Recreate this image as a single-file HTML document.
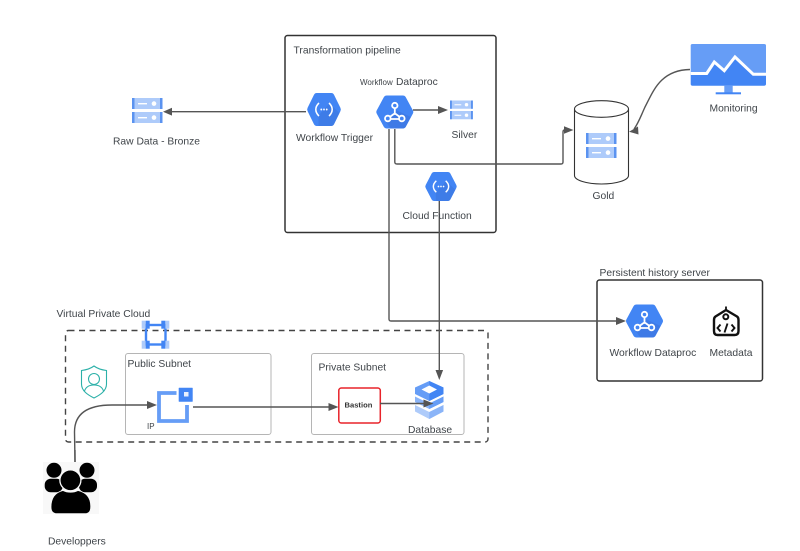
<!DOCTYPE html>
<html><head><meta charset="utf-8">
<style>
html,body{margin:0;padding:0;background:#fff;width:800px;height:551px;overflow:hidden}
svg{display:block;filter:blur(.3px)}
text{font-family:"Liberation Sans",sans-serif;font-size:10.3px;fill:#3f4449}
</style></head>
<body>
<svg width="800" height="551" viewBox="0 0 800 551" xmlns="http://www.w3.org/2000/svg">
<defs>
<g id="srv">
 <rect x="0" y="0" width="30.500" height="11" fill="#aecbfa"/>
 <rect x="0" y="0" width="2.500" height="11" fill="#5b93f0"/><rect x="28" y="0" width="2.500" height="11" fill="#5b93f0"/>
 <rect x="6" y="5" width="9" height="1.400" fill="#fff"/><circle cx="22" cy="5.600" r="2.300" fill="#fff"/>
 <rect x="0" y="14" width="30.500" height="11" fill="#aecbfa"/>
 <rect x="0" y="14" width="2.500" height="11" fill="#5b93f0"/><rect x="28" y="14" width="2.500" height="11" fill="#5b93f0"/>
 <rect x="6" y="19" width="9" height="1.400" fill="#fff"/><circle cx="22" cy="19.600" r="2.300" fill="#fff"/>
</g>
<g id="hex">
 <path d="M-8,-16.500 L8,-16.500 Q10,-16.500 11,-14.800 L18,-1.700 Q19,0 18,1.700 L11,14.800 Q10,16.500 8,16.500 L-8,16.500 Q-10,16.500 -11,14.800 L-18,1.700 Q-19,0 -18,-1.700 L-11,-14.800 Q-10,-16.500 -8,-16.500Z" fill="#4285f4"/>
</g>
<g id="dp">
 <use href="#hex"/>
 <path d="M1,-2 L16,5 L11,14.800 Q10,16.500 8,16.500 L-4,16.500 L-9,10Z" fill="#3a70d8" opacity=".5"/>
 <g fill="none" stroke="#fff" stroke-width="1.800">
  <path d="M0,-4 L0,2.500 M-5,5 L-1,2 L1,2 L5,5 M-4.500,7 L4.500,7"/>
  <circle cx="0" cy="-6.500" r="2.700" fill="#4285f4"/><circle cx="-7" cy="6.500" r="2.800" fill="#4285f4"/><circle cx="7" cy="6.500" r="2.800" fill="#4285f4"/>
 </g>
</g>
<g id="fn">
 <use href="#hex"/>
 <path d="M6,-6 L17,3.500 L11,14.800 Q10,16.500 8,16.500 L-6,16.500 L-6,6Z" fill="#3a70d8" opacity=".45"/>
 <g fill="none" stroke="#fff" stroke-width="1.700">
  <path d="M-5.500,-6.500 Q-9,-3.500 -9,0 Q-9,3.500 -5.500,6.500"/>
  <path d="M5.500,-6.500 Q9,-3.500 9,0 Q9,3.500 5.500,6.500"/>
 </g>
 <circle cx="-3" cy="0" r="1" fill="#fff"/><circle cx="0" cy="0" r="1" fill="#fff"/><circle cx="3" cy="0" r="1" fill="#fff"/>
</g>
</defs>
<rect width="800" height="551" fill="#fff"/>

<!-- containers -->
<rect x="285" y="35.500" width="211" height="197" rx="2.500" fill="none" stroke="#333" stroke-width="1.500"/>
<rect x="597" y="280" width="165.500" height="101" rx="2.500" fill="none" stroke="#333" stroke-width="1.500"/>
<rect x="65.500" y="330.500" width="422.500" height="111.500" rx="3" fill="none" stroke="#444" stroke-width="1.400" stroke-dasharray="6 4.500"/>
<rect x="125.500" y="353.500" width="145.500" height="81" rx="2.500" fill="#fff" stroke="#b5b5b5" stroke-width="1"/>
<rect x="311.500" y="353.500" width="152.500" height="81" rx="2.500" fill="#fff" stroke="#b5b5b5" stroke-width="1"/>
<rect x="338.800" y="388" width="41.500" height="35" rx="2.500" fill="#fff" stroke="#e8232a" stroke-width="1.500"/>

<!-- gold cylinder -->
<path d="M574.500,109 L574.500,175.500 A27,8.500 0 0 0 628.500,175.500 L628.500,109" fill="#fff" stroke="#333" stroke-width="1.100"/>
<ellipse cx="601.500" cy="109" rx="27" ry="8.300" fill="#fff" stroke="#333" stroke-width="1.100"/>

<!-- server icons -->
<use href="#srv" x="132" y="98"/>
<use href="#srv" transform="translate(450,100.500) scale(.75)"/>
<use href="#srv" x="586" y="133"/>

<!-- hexes -->
<use href="#fn" transform="translate(324,109.500) scale(.91,1)"/>
<use href="#dp" x="394.800" y="112"/>
<use href="#fn" transform="translate(441,186.500) scale(.85,.88)"/>
<use href="#dp" x="644.500" y="321"/>

<!-- connectors -->
<g fill="none" stroke="#555" stroke-width="1.400">
 <path d="M306,111.700 L168,111.700"/>
 <path d="M413,110 L442,110"/>
 <path d="M389,129 L389,319 Q389,321 391,321 L619,321"/>
 <path d="M394.800,129 L394.800,162 Q394.800,164 397,164 L561,164 Q563,164 563,162 L563,132 Q563,130 565,130 L567,130"/>
 <path d="M439.300,201 L439.300,373"/>
 <path d="M690,69.500 C660,70 653,92 645,107 C640,118 638,124 634,129"/>
 <path d="M193,407 L332,407"/>
 <path d="M75,462 L74.500,432 C74.500,412 90,405 112,405 L150,405"/>
</g>
<g fill="#555">
 <path d="M163,111.700 L172,107.800 L172,115.600Z"/>
 <path d="M448,110 L438,106 L438,114Z"/>
 <path d="M626,321 L616,317 L616,325Z"/>
 <path d="M573.500,130 L564,126.200 L564,133.800Z"/>
 <path d="M629,131.700 L638,126.500 L638.500,134.500Z"/>
 <path d="M439.300,380 L435.500,370 L443.100,370Z"/>
 <path d="M338.500,407 L328.500,403 L328.500,411Z"/>
 <path d="M157,405 L147,401 L147,409Z"/>
</g>

<!-- monitoring -->
<path d="M690.700,45.500 Q690.700,44 692.500,44 L764,44 Q766,44 766,45.500 L766,75 L690.700,75Z" fill="#669df6"/>
<path d="M690.700,73.500 L706.700,73.500 L714.300,60.700 L724.300,70.700 L735,55.700 L753.300,74.300 L766,74.300 L766,84 Q766,85.700 764,85.700 L692.500,85.700 Q690.700,85.700 690.700,84Z" fill="#4285f4"/>
<path d="M690.700,73.500 L706.700,73.500 L714.300,62 L724.300,70.700 L735,57 L753.300,74.300 L766,74.300" fill="none" stroke="#fff" stroke-width="3"/>
<rect x="724.300" y="85.700" width="8.400" height="6.800" fill="#669df6"/>
<rect x="715.700" y="92.300" width="25.300" height="2" fill="#4285f4"/>

<!-- VPC icon -->
<g>
 <rect x="146" y="325" width="19.500" height="19.500" fill="none" stroke="#4285f4" stroke-width="2.400"/>
 <g fill="#aecbfa"><rect x="141.700" y="320.700" width="4" height="8"/><rect x="165.300" y="320.700" width="4" height="8"/><rect x="141.700" y="340.700" width="4" height="8"/><rect x="165.300" y="340.700" width="4" height="8"/></g>
 <g fill="#4285f4"><rect x="145.700" y="320.700" width="4" height="8"/><rect x="161.300" y="320.700" width="4" height="8"/><rect x="145.700" y="340.700" width="4" height="8"/><rect x="161.300" y="340.700" width="4" height="8"/></g>
</g>

<!-- shield -->
<g fill="none" stroke="#2bb0a8" stroke-width="1.100">
 <path d="M94,366 C98,369 102,370 106.500,370.500 L106.500,384 C106.500,391 100,395 94,398 C88,395 81.500,391 81.500,384 L81.500,370.500 C86,370 90,369 94,366Z"/>
 <circle cx="94" cy="379" r="5.500"/>
 <path d="M84.500,391 C86,386.500 90,385 94,385 C98,385 102,386.500 103.500,391"/>
</g>

<!-- IP icon -->
<path d="M176.500,393 L159,393 L159,421 L187,421 L187,405" fill="none" stroke="#669df6" stroke-width="3.800"/>
<rect x="178.700" y="387.700" width="14" height="14" rx=".5" fill="#4285f4"/>
<rect x="184" y="392" width="4.500" height="4.500" fill="#e8f0fe"/>

<!-- DB icon -->
<path d="M429.300,381 L443.500,387.500 L443.500,394 L429.300,401 L415,394 L415,387.500Z" fill="#669df6"/>
<path d="M429.300,381 L443.500,387.500 L443.500,394 L429.300,401 Z" fill="#4285f4"/>
<path d="M429.300,385.500 L437,389.500 L429.300,393.500 L421.500,389.500Z" fill="#fff"/>
<path d="M415,396.500 L429.300,403.500 L443.500,396.500 L443.500,402 L429.300,409 L415,402Z" fill="#8ab4f8"/>
<path d="M429.300,403.500 L443.500,396.500 L443.500,402 L429.300,409Z" fill="#669df6"/>
<path d="M415,405 L429.300,412 L443.500,405 L443.500,411.500 L429.300,419 L415,411.500Z" fill="#aecbfa"/>
<path d="M429.300,412 L443.500,405 L443.500,411.500 L429.300,419Z" fill="#8ab4f8"/>
<path d="M380,403.500 L427,403.500" stroke="#555" stroke-width="1.400"/>
<path d="M433.500,403.500 L423.500,399.500 L423.500,407.500Z" fill="#555"/>

<!-- metadata icon -->
<g fill="none" stroke="#111" stroke-width="2.400">
 <path d="M726,310 L737,316.500 Q738.500,317.500 738.500,320 L738.500,331 Q738.500,335 734.500,335 L717.500,335 Q714,335 714,331 L714,320 Q714,317.500 715.500,316.500Z" stroke-linejoin="round"/>
 <circle cx="725.800" cy="316.800" r="2.500" stroke-width="2"/>
 <path d="M720.500,324.500 L717.500,328 L720.500,331.500 M731.500,324.500 L734.500,328 L731.500,331.500 M727.500,323.500 L724.500,332.500" stroke-width="1.900"/>
</g>
<path d="M726,306.500 V310" stroke="#111" stroke-width="1.800"/>

<!-- developers icon -->
<rect x="43" y="462" width="56" height="52" fill="#f8f8f8"/>
<g fill="#000">
 <circle cx="54" cy="470.300" r="7.500"/>
 <circle cx="87" cy="470.300" r="7.500"/>
 <rect x="44.700" y="478.700" width="18" height="13.500" rx="6"/>
 <rect x="79" y="478.700" width="18" height="13.500" rx="6"/>
</g>
<circle cx="70.400" cy="480.300" r="10.500" fill="#000" stroke="#f8f8f8" stroke-width="1.300"/>
<path d="M51,507 C51,498 55,492.500 63,490.500 C67.500,492.800 73.500,492.800 78,490.500 C86.500,492.500 91,498 90.700,507 Q90.700,513.700 85,513.700 L57,513.700 Q51,513.700 51,507Z" fill="#000" stroke="#f8f8f8" stroke-width=".8"/>

<path d="M75,450 L75,462" stroke="#555" stroke-width="1.400" fill="none"/>

<!-- labels -->
<text x="293.500" y="53.500">Transformation pipeline</text>
<text x="360" y="85" style="font-size:8px">Workflow</text>
<text x="396" y="85">Dataproc</text>
<text x="296" y="141">Workflow Trigger</text>
<text x="451.500" y="138">Silver</text>
<text x="402.500" y="219">Cloud Function</text>
<text x="113" y="144.500">Raw Data - Bronze</text>
<text x="592.500" y="199">Gold</text>
<text x="709.500" y="111.500">Monitoring</text>
<text x="599.500" y="276">Persistent history server</text>
<text x="609.500" y="356">Workflow Dataproc</text>
<text x="709.500" y="356">Metadata</text>
<text x="56.500" y="317">Virtual Private Cloud</text>
<text x="127.500" y="367">Public Subnet</text>
<text x="318.500" y="370.500">Private Subnet</text>
<text x="147" y="429" style="font-size:8px">IP</text>
<text x="344.500" y="407.500" style="font-size:7.600px;font-weight:bold;fill:#333">Bastion</text>
<text x="408" y="433">Database</text>
<text x="48" y="544.500">Developpers</text>
</svg>
</body></html>
